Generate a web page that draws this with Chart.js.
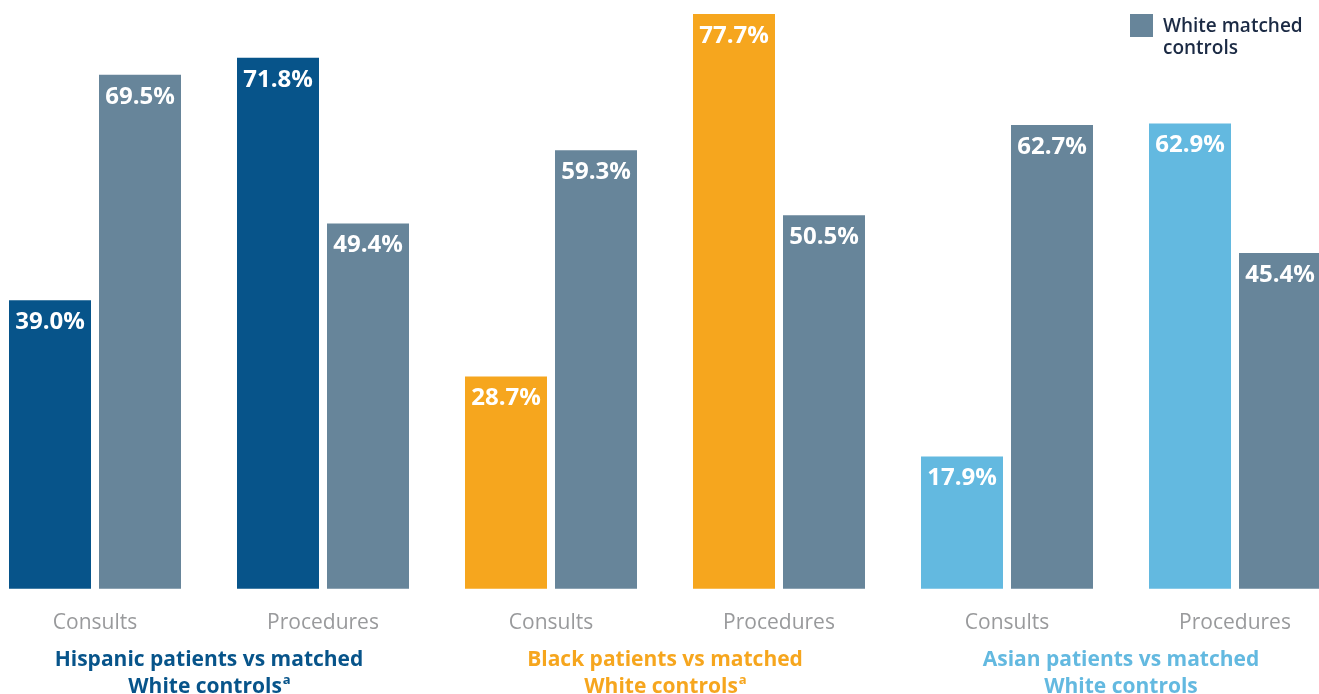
<!DOCTYPE html>
<html>
<head>
<meta charset="utf-8">
<script src="https://cdn.jsdelivr.net/npm/chart.js@4/dist/chart.umd.min.js"></script>
<style>
  html, body { margin: 0; padding: 0; background: #fff; }
  #wrap { position: relative; width: 1319px; height: 694px; overflow: hidden; }
  #legend { position: absolute; left: 1130px; top: 14px; display: flex; align-items: flex-start;
    font-family: "Open Sans", sans-serif; font-weight: 600; font-size: 19px; line-height: 22px; color: #1b2a44; }
  #legend .box { width: 23px; height: 23px; background: #67859a; margin-right: 10px; }
</style>
</head>
<body>
<div id="wrap">
  <canvas id="grafico" width="1319" height="694"></canvas>
  <div id="legend"><div class="box"></div><div>White matched<br>controls</div></div>
</div>
<script>
// dados
const categorias = ["Consults", "Procedures", "Consults", "Procedures", "Consults", "Procedures"];
const pacientes = [39.0, 71.8, 28.7, 77.7, 17.9, 62.9];
const controlesBrancos = [69.5, 49.4, 59.3, 50.5, 62.7, 45.4];
const grupos = [
    ["Hispanic patients vs matched", "White controls", "a"],
    ["Black patients vs matched", "White controls", "a"],
    ["Asian patients vs matched", "White controls", ""]
];
const coresGrupo = ['#07548a', '#f6a61e', '#63b9e0'];
const corCinza = '#67859a';

const coresPacientes = categorias.map((c, i) => coresGrupo[Math.floor(i / 2)]);

// rótulos dentro das barras + títulos dos grupos
const rotulosPlugin = {
    id: 'rotulos',
    afterDatasetsDraw(chart) {
        const ctx = chart.ctx;
        ctx.save();
        ctx.fillStyle = '#fff';
        ctx.font = 'bold 24px "Open Sans", sans-serif';
        ctx.textAlign = 'center';
        ctx.textBaseline = 'middle';
        chart.data.datasets.forEach((ds, d) => {
            chart.getDatasetMeta(d).data.forEach((bar, i) => {
                ctx.fillText(ds.data[i].toFixed(1) + '%', bar.x, bar.y + 22);
            });
        });

        const x = chart.scales.x;
        const fonte = 'bold 21px "Open Sans", sans-serif';
        const fonteSup = 'bold 13px "Open Sans", sans-serif';
        grupos.forEach((g, k) => {
            const cx = (x.getPixelForTick(k * 2) + x.getPixelForTick(k * 2 + 1)) / 2;
            ctx.fillStyle = coresGrupo[k];
            ctx.font = fonte;
            ctx.textAlign = 'center';
            ctx.fillText(g[0], cx, 660);
            if (g[2]) {
                const w = ctx.measureText(g[1]).width;
                ctx.font = fonteSup;
                const ws = ctx.measureText(g[2]).width;
                ctx.font = fonte;
                ctx.textAlign = 'left';
                const x0 = cx - (w + ws) / 2;
                ctx.fillText(g[1], x0, 687);
                ctx.font = fonteSup;
                ctx.fillText(g[2], x0 + w + 1, 680);
            } else {
                ctx.fillText(g[1], cx, 687);
            }
        });
        ctx.restore();
    }
};

new Chart(document.getElementById('grafico'), {
    type: 'bar',
    data: {
        labels: categorias,
        datasets: [
            { label: 'Patients', data: pacientes, backgroundColor: coresPacientes, clip: false },
            { label: 'White matched controls', data: controlesBrancos, backgroundColor: corCinza, clip: false }
        ]
    },
    options: {
        responsive: false,
        animation: false,
        categoryPercentage: 180 / 228,
        barPercentage: 82 / 90,
        layout: { padding: { left: 95, right: 84, top: 0, bottom: 36 } },
        plugins: { legend: { display: false }, tooltip: { enabled: false } },
        scales: {
            x: {
                offset: false,
                grid: { display: false, drawTicks: false },
                border: { display: false },
                ticks: {
                    padding: 22,
                    color: '#999a9c',
                    font: { family: '"Open Sans", sans-serif', size: 21 },
                    maxRotation: 0,
                    autoSkip: false
                }
            },
            y: { display: false, min: 0, max: 79.6 }
        }
    },
    plugins: [rotulosPlugin]
});
</script>
</body>
</html>
